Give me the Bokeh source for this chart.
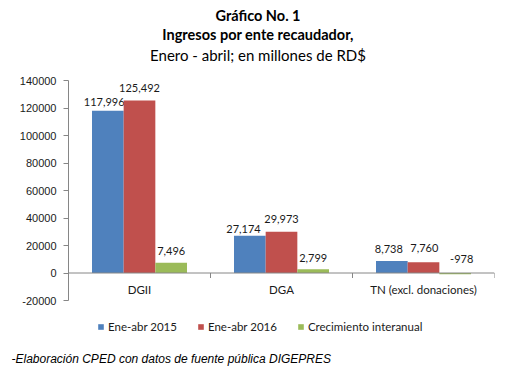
import numpy as np
from bokeh.plotting import figure
from bokeh.models import (Range1d, FixedTicker, NumeralTickFormatter, Label,
                          Legend, LegendItem, ColumnDataSource, Span, Title)
from bokeh.core.properties import value
from bokeh.embed import file_html
from bokeh.resources import INLINE

# ---- data ----
categories = ["DGII", "DGA", "TN (excl. donaciones)"]
series_names = ["Ene-abr 2015", "Ene-abr 2016", "Crecimiento interanual"]
ene_abr_2015 = [117996, 27174, 8738]
ene_abr_2016 = [125492, 29973, 7760]
crecimiento = [7496, 2799, -978]
y_ticks = [-20000, 0, 20000, 40000, 60000, 80000, 100000, 120000, 140000]

# ---- layout (pixels) ----
W, H = 510, 372
FRAME_L, FRAME_R = 68, 494
FRAME_T, FRAME_B = 0, 350
AXIS_TOP_PX, AXIS_BOT_PX = 80, 300  # where 140000 and -20000 fall

units_per_px = (y_ticks[-1] - y_ticks[0]) / (AXIS_BOT_PX - AXIS_TOP_PX)
y_start = y_ticks[0] - (FRAME_B - AXIS_BOT_PX) * units_per_px
y_end = y_ticks[-1] + (AXIS_TOP_PX - FRAME_T) * units_per_px

colors = ["#4F81BD", "#C0504D", "#9BBB59"]
series = [ene_abr_2015, ene_abr_2016, crecimiento]
# label nudges in pixels (style only, mimicking the reference's label placement)
label_dx = [[-3.7, -6.3, -3.0], [0.0, 0.0, 0.8], [0.0, 0.0, 6.5]]
label_dy = [[3.2, 5.0, -0.3], [0.0, -0.3, -2.3], [0.0, 0.7, -2.3]]
font = "Lato"
text_col = "#1a1a1a"

p = figure(width=W, height=H, output_backend="svg", toolbar_location=None,
           title=None, x_axis_location=None,
           x_range=Range1d(0, 3), y_range=Range1d(y_start, y_end),
           min_border_left=FRAME_L, min_border_right=W - FRAME_R,
           min_border_top=FRAME_T, min_border_bottom=H - FRAME_B)
p.outline_line_color = None
p.grid.visible = False

centers = np.arange(len(categories)) + 0.5
bw = 0.223
offsets = [-bw, 0.0, bw]

renderers = []
for vals, col, off, dx, dy in zip(series, colors, offsets, label_dx, label_dy):
    src = ColumnDataSource(dict(x=centers + off, top=vals,
                                ly=[max(v, 0) for v in vals],
                                txt=[f"{v:,}" for v in vals],
                                dx=dx, dy=[d - 12 for d in dy]))
    r = p.vbar(x="x", top="top", bottom=0, width=bw, source=src,
               fill_color=col, line_color=None)
    renderers.append(r)
    p.text(x="x", y="ly", text="txt", source=src, text_align="center",
           text_baseline="middle", x_offset="dx", y_offset="dy",
           text_font=value(font), text_font_size="11px", text_color=text_col)

# y axis
ya = p.yaxis[0]
ya.bounds = (y_ticks[0], y_ticks[-1])
ya.ticker = FixedTicker(ticks=y_ticks)
ya.formatter = NumeralTickFormatter(format="0")
ya.axis_line_color = "#868686"
ya.major_tick_line_color = "#868686"
ya.major_tick_out = 5
ya.major_tick_in = 0
ya.minor_tick_line_color = None
ya.major_label_text_font = "Liberation Sans"
ya.major_label_text_font_size = "11px"
ya.major_label_text_color = text_col
ya.major_label_standoff = 7

# category axis at zero
p.add_layout(Span(location=0, dimension="width", line_color="#868686", line_width=1))
boundaries = np.arange(1, len(categories) + 1)
p.segment(x0=boundaries, x1=boundaries, y0=0, y1=-5 * units_per_px,
          line_color="#868686", line_width=1)
p.text(x=centers, y=np.zeros(len(centers)), text=categories, text_align="center",
       text_baseline="middle", y_offset=16, text_font=value(font),
       text_font_size="11.5px", text_color=text_col)

# titles
title_x = 257.5 - FRAME_L
for txt, ypx, style, size in [("Gráfico No. 1", 15, "bold", "14.5px"),
                              ("Ingresos por ente recaudador,", 34, "bold", "14.5px"),
                              ("Enero - abril; en millones de RD$", 54, "normal", "15px")]:
    p.add_layout(Label(x=title_x, y=FRAME_B - ypx, x_units="screen", y_units="screen",
                       text=txt, text_align="center", text_baseline="middle",
                       text_font=font, text_font_style=style, text_font_size=size,
                       text_color="#000000"))

# legend
legend = Legend(items=[LegendItem(label=n, renderers=[r]) for n, r in zip(series_names, renderers)],
                orientation="horizontal", location=(97 - FRAME_L, FRAME_B - 333),
                padding=0, margin=0, spacing=20, glyph_width=7, glyph_height=7,
                label_standoff=4, label_text_font=font, label_text_font_size="11.5px",
                label_text_color=text_col, border_line_color=None,
                background_fill_alpha=0, label_height=14)
p.add_layout(legend, "center")

# footnote
p.add_layout(Title(text="-Elaboración CPED con datos de fuente pública DIGEPRES",
                   align="left", offset=12 - FRAME_L - 1, standoff=0,
                   vertical_align="middle", text_font="Liberation Sans",
                   text_font_style="italic", text_font_size="12px",
                   text_color="#000000"), "below")

open("out.html", "w").write(file_html(p, INLINE))
